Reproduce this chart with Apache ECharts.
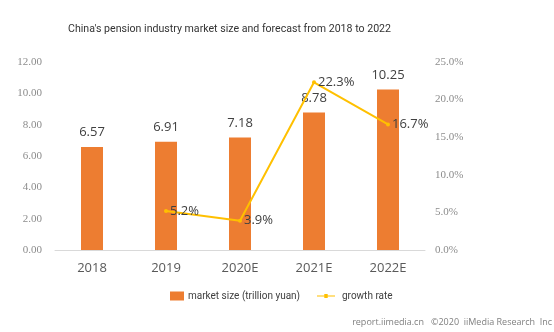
<!DOCTYPE html>
<html>
<head>
<meta charset="utf-8">
<script src="https://cdn.jsdelivr.net/npm/echarts@6/dist/echarts.min.js"></script>
<style>
  html, body { margin: 0; padding: 0; background: #fff; }
  #chart { width: 554px; height: 332px; }
</style>
</head>
<body>
<div id="chart"></div>
<script>
// Market size (trillion yuan) and year-over-year growth rate (%)
const years = ['2018', '2019', '2020E', '2021E', '2022E'];
const marketSize = [6.57, 6.91, 7.18, 8.78, 10.25];
const growthRate = [null, 5.2, 3.9, 22.3, 16.7];
const leftTicks = { min: 0, max: 12, interval: 2 };
const rightTicks = { min: 0, max: 25, interval: 5 };

const chart = echarts.init(document.getElementById('chart'));
const axisFont = 'Liberation Serif, serif';
const textFont = 'Open Sans, Noto Sans, sans-serif';
const narrowFont = 'Roboto, sans-serif';

// legend marker for the growth-rate line: thin stroke with a small dot in the middle
const lineIcon = 'path://M0,1.3H18V2.5H0Z M7.3,0H10.7V3.8H7.3Z';

chart.setOption({
  animation: false,
  title: {
    text: "China's pension industry market size and forecast from 2018 to 2022",
    left: 68,
    top: 24,
    padding: 0,
    textStyle: { fontFamily: narrowFont, fontSize: 10.6, fontWeight: 'normal', color: '#333' }
  },
  grid: { left: 55, right: 129, top: 62, bottom: 82 },
  legend: [
    {
      bottom: 31,
      left: 170,
      padding: 0,
      itemWidth: 14,
      itemHeight: 9,
      itemGap: 0,
      textStyle: { fontFamily: narrowFont, fontSize: 10, color: '#404040', padding: [0, 0, 0, -1] },
      data: [{ name: 'market size (trillion yuan)', icon: 'rect' }]
    },
    {
      bottom: 31,
      left: 317,
      padding: 0,
      itemWidth: 18,
      itemHeight: 4,
      textStyle: { fontFamily: narrowFont, fontSize: 10, color: '#404040', padding: [0, 0, 0, 2] },
      data: [{ name: 'growth rate', icon: lineIcon }]
    }
  ],
  graphic: [{
    type: 'text',
    right: 2,
    bottom: 5,
    style: {
      text: 'report.iimedia.cn   \u00a92020  iiMedia Research  Inc',
      fontFamily: textFont,
      fontSize: 9,
      fill: '#7f7f7f'
    }
  }],
  xAxis: {
    type: 'category',
    data: years,
    axisLine: { lineStyle: { color: '#d9d9d9' } },
    axisTick: { show: false },
    axisLabel: { fontFamily: textFont, fontSize: 13, color: '#595959', margin: 12 }
  },
  yAxis: [
    {
      type: 'value',
      min: leftTicks.min, max: leftTicks.max, interval: leftTicks.interval,
      splitLine: { show: false },
      axisLine: { show: false },
      axisTick: { show: false },
      axisLabel: {
        fontFamily: axisFont, fontSize: 11, color: '#8c8c8c', margin: 13,
        formatter: v => v.toFixed(2)
      }
    },
    {
      type: 'value',
      min: rightTicks.min, max: rightTicks.max, interval: rightTicks.interval,
      splitLine: { show: false },
      axisLine: { show: false },
      axisTick: { show: false },
      axisLabel: {
        fontFamily: axisFont, fontSize: 11, color: '#8c8c8c', margin: 10,
        formatter: v => v.toFixed(1) + '%'
      }
    }
  ],
  series: [
    {
      name: 'market size (trillion yuan)',
      type: 'bar',
      data: marketSize,
      barWidth: 22,
      itemStyle: { color: '#ED7D31' },
      label: {
        show: true, position: 'top', distance: 8,
        fontFamily: textFont, fontSize: 13, color: '#404040',
        formatter: p => p.value.toFixed(2)
      }
    },
    {
      name: 'growth rate',
      type: 'line',
      yAxisIndex: 1,
      data: growthRate,
      connectNulls: false,
      symbol: 'circle',
      symbolSize: 4,
      lineStyle: { color: '#FFC000', width: 2 },
      itemStyle: { color: '#FFC000' },
      label: {
        show: true, position: 'right', distance: 2,
        fontFamily: textFont, fontSize: 13, color: '#404040',
        formatter: p => p.value.toFixed(1) + '%'
      }
    }
  ]
});
</script>
</body>
</html>
